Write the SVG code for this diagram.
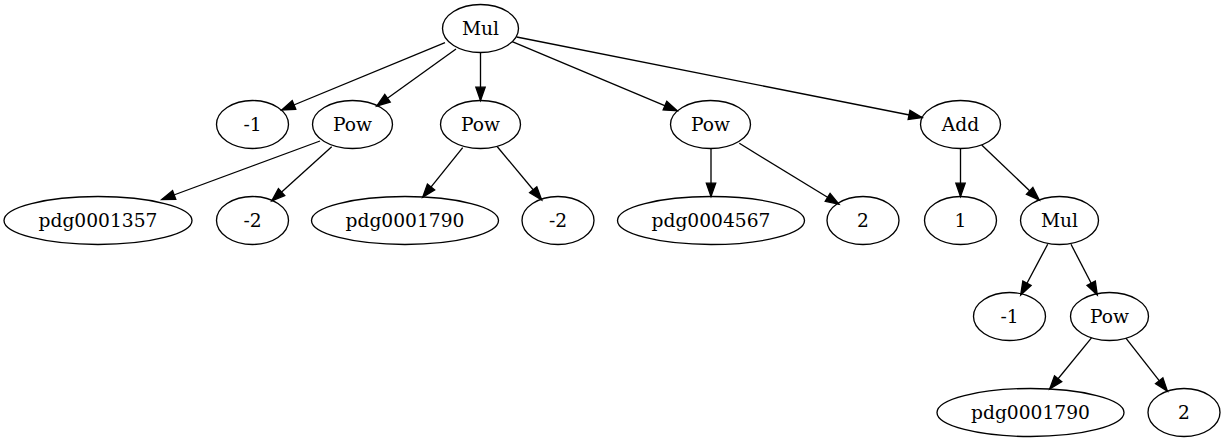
<svg xmlns="http://www.w3.org/2000/svg" width="1226" height="443" viewBox="0 0 1226 443">
<style>
.n ellipse{fill:none;stroke:#000;stroke-width:1.33}
.n text{font-family:"DejaVu Serif","Liberation Serif",serif;font-size:18.67px;text-anchor:middle;fill:#000}
.e line{stroke:#000;stroke-width:1.33;fill:none;marker-end:url(#ah)}
</style>
<defs>
<marker id="ah" markerUnits="userSpaceOnUse" markerWidth="16" markerHeight="12" refX="13.3" refY="4.67" orient="auto" overflow="visible">
<path d="M0,0 L13.3,4.67 L0,9.33 z" fill="#000" stroke="#000" stroke-width="1.33" stroke-linejoin="miter"/>
</marker>
</defs>
<rect width="1226" height="443" fill="#fff"/>
<g id="edges" class="e">
<line x1="445" y1="42.7" x2="281.7" y2="110"/>
<line x1="456" y1="49" x2="376.7" y2="106"/>
<line x1="480.5" y1="52.5" x2="480.5" y2="100.5"/>
<line x1="512.2" y1="41.7" x2="677.2" y2="110.8"/>
<line x1="516.7" y1="37" x2="922.1" y2="117.5"/>
<line x1="320" y1="141" x2="161.7" y2="199.5"/>
<line x1="331.7" y1="146.7" x2="271.7" y2="201"/>
<line x1="462.7" y1="147.7" x2="422.7" y2="197.3"/>
<line x1="497.3" y1="146.7" x2="541.7" y2="200"/>
<line x1="711" y1="148.5" x2="711" y2="196.5"/>
<line x1="739.3" y1="143.3" x2="839" y2="204.3"/>
<line x1="960.5" y1="148.5" x2="960.5" y2="196.5"/>
<line x1="981.7" y1="145" x2="1039.3" y2="200"/>
<line x1="1047.7" y1="244.3" x2="1020.7" y2="295"/>
<line x1="1071" y1="244.3" x2="1097.3" y2="295"/>
<line x1="1091.5" y1="337.9" x2="1049.7" y2="389"/>
<line x1="1125.9" y1="338.1" x2="1167.4" y2="391.2"/>
</g>
<g id="n_mul" class="n"><ellipse cx="480.5" cy="28.5" rx="38" ry="24"/><text x="480.5" y="34.5">Mul</text></g>
<g id="n_m1a" class="n"><ellipse cx="252.5" cy="124.5" rx="36" ry="24"/><text x="252.5" y="130.5">-1</text></g>
<g id="n_pow1" class="n"><ellipse cx="352.5" cy="124.5" rx="40" ry="24"/><text x="352.5" y="130.5">Pow</text></g>
<g id="n_pow2" class="n"><ellipse cx="480.5" cy="124.5" rx="40" ry="24"/><text x="480.5" y="130.5">Pow</text></g>
<g id="n_pow3" class="n"><ellipse cx="710.5" cy="124.5" rx="40" ry="24"/><text x="710.5" y="130.5">Pow</text></g>
<g id="n_add" class="n"><ellipse cx="960.5" cy="124.5" rx="40" ry="24"/><text x="960.5" y="130.5">Add</text></g>
<g id="n_pdg1357" class="n"><ellipse cx="98" cy="220.5" rx="94" ry="24"/><text x="98" y="226.5">pdg0001357</text></g>
<g id="n_m2a" class="n"><ellipse cx="252.5" cy="220.5" rx="36" ry="24"/><text x="252.5" y="226.5">-2</text></g>
<g id="n_pdg1790a" class="n"><ellipse cx="405" cy="220.5" rx="93.5" ry="24"/><text x="405" y="226.5">pdg0001790</text></g>
<g id="n_m2b" class="n"><ellipse cx="558" cy="220.5" rx="36" ry="24"/><text x="558" y="226.5">-2</text></g>
<g id="n_pdg4567" class="n"><ellipse cx="711" cy="220.5" rx="93.5" ry="24"/><text x="711" y="226.5">pdg0004567</text></g>
<g id="n_2a" class="n"><ellipse cx="863" cy="220.5" rx="36" ry="24"/><text x="863" y="226.5">2</text></g>
<g id="n_1" class="n"><ellipse cx="960.5" cy="220.5" rx="36" ry="24"/><text x="960.5" y="226.5">1</text></g>
<g id="n_mul2" class="n"><ellipse cx="1059.5" cy="220.5" rx="39" ry="24"/><text x="1059.5" y="226.5">Mul</text></g>
<g id="n_m1b" class="n"><ellipse cx="1009.5" cy="316.5" rx="36" ry="24"/><text x="1009.5" y="322.5">-1</text></g>
<g id="n_pow4" class="n"><ellipse cx="1109.5" cy="316.5" rx="39" ry="24"/><text x="1109.5" y="322.5">Pow</text></g>
<g id="n_pdg1790b" class="n"><ellipse cx="1030.5" cy="412.5" rx="93.5" ry="24"/><text x="1030.5" y="418.5">pdg0001790</text></g>
<g id="n_2b" class="n"><ellipse cx="1184" cy="412.5" rx="36" ry="24"/><text x="1184" y="418.5">2</text></g>
</svg>
